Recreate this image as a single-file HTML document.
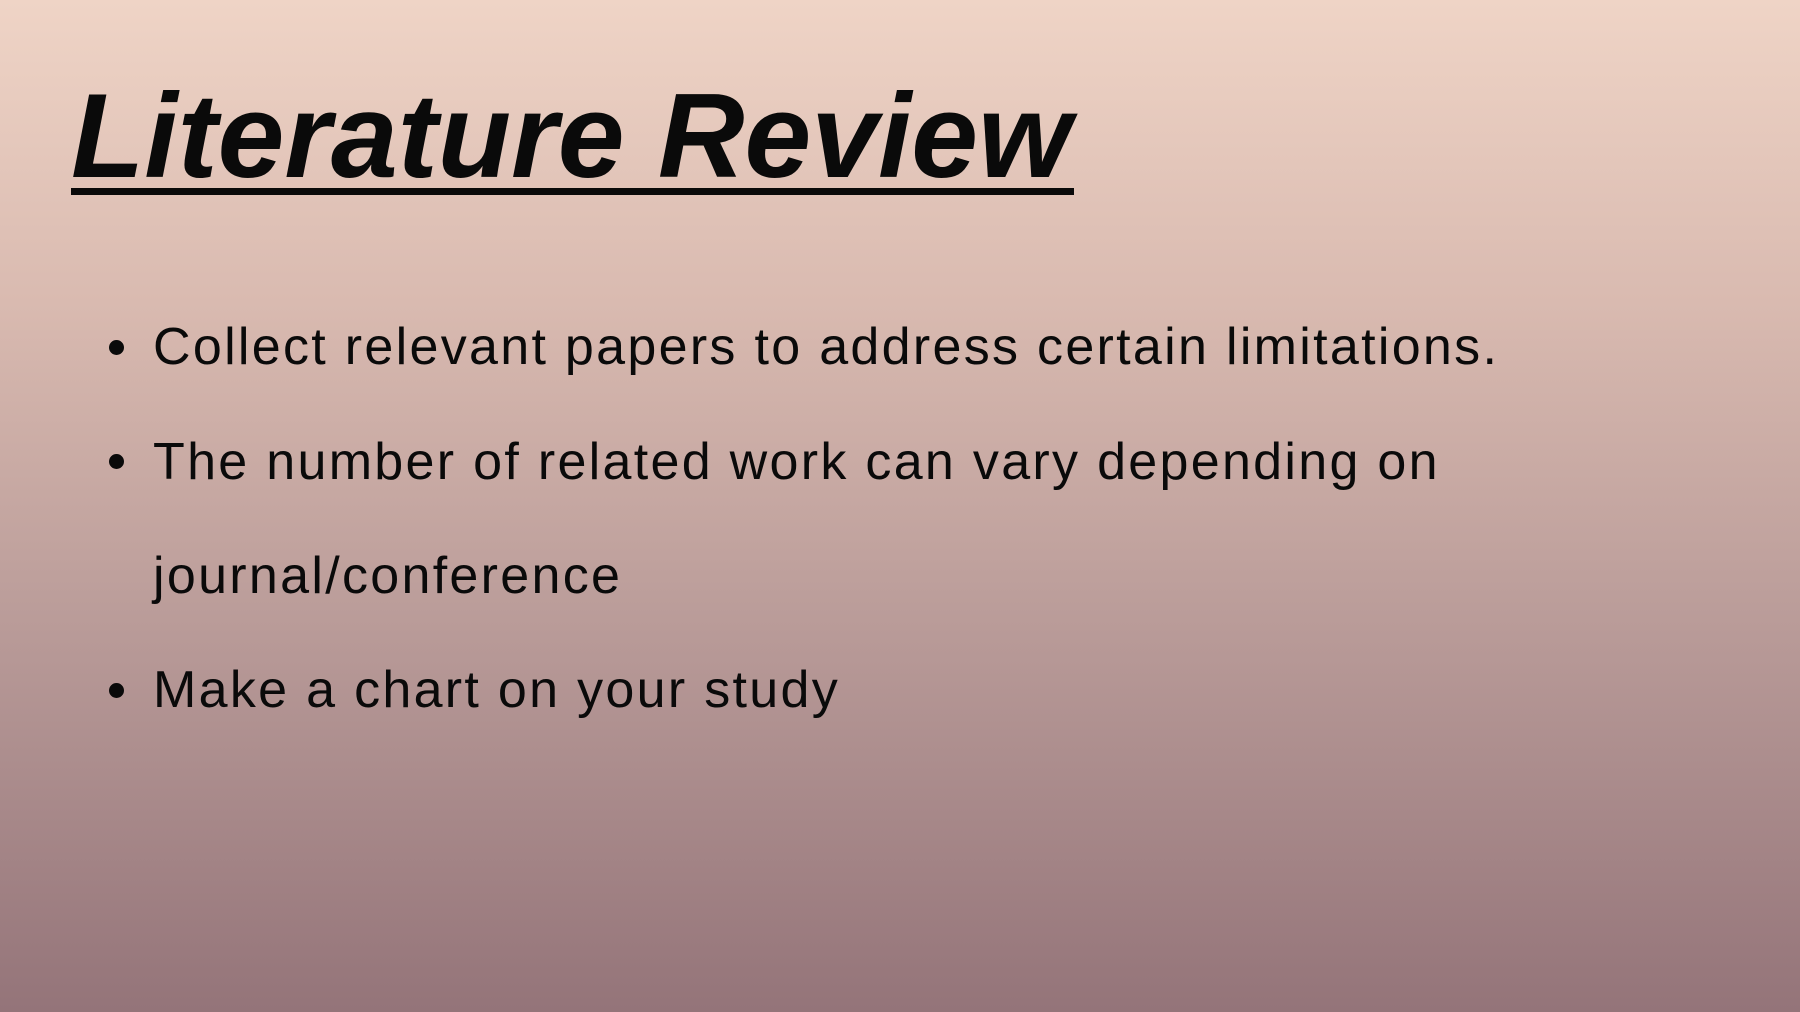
<!DOCTYPE html>
<html>
<head>
<meta charset="utf-8">
<style>
  html, body { margin:0; padding:0; }
  body {
    width:1800px; height:1012px; position:relative; overflow:hidden;
    background: linear-gradient(to bottom, #efd4c6 0%, #d9bab0 30%, #bb9d9a 60%, #947479 100%);
    font-family: "Liberation Sans", sans-serif; color:#0a0a0a;
  }
  .title {
    position:absolute; left:71px; top:76px;
    font-size:120px; line-height:120px; font-weight:bold; font-style:italic;
    white-space:nowrap;
  }
  .underline {
    position:absolute; left:71px; top:188px; width:1003px; height:7px; background:#0a0a0a;
  }
  .item {
    position:absolute; left:153px; font-size:52px; line-height:52px; white-space:nowrap;
    letter-spacing:2.3px;
  }
  .dot {
    position:absolute; width:15px; height:15px; border-radius:50%; background:#0a0a0a; left:109px;
  }
</style>
</head>
<body>
  <div class="title">Literature Review</div>
  <div class="underline"></div>

  <div class="dot" style="top:340px"></div>
  <div class="item" style="top:321px">Collect relevant papers to address certain limitations.</div>

  <div class="dot" style="top:454px"></div>
  <div class="item" style="top:436px">The number of related work can vary depending on</div>
  <div class="item" style="top:550px">journal/conference</div>

  <div class="dot" style="top:683px"></div>
  <div class="item" style="top:664px">Make a chart on your study</div>
</body>
</html>
